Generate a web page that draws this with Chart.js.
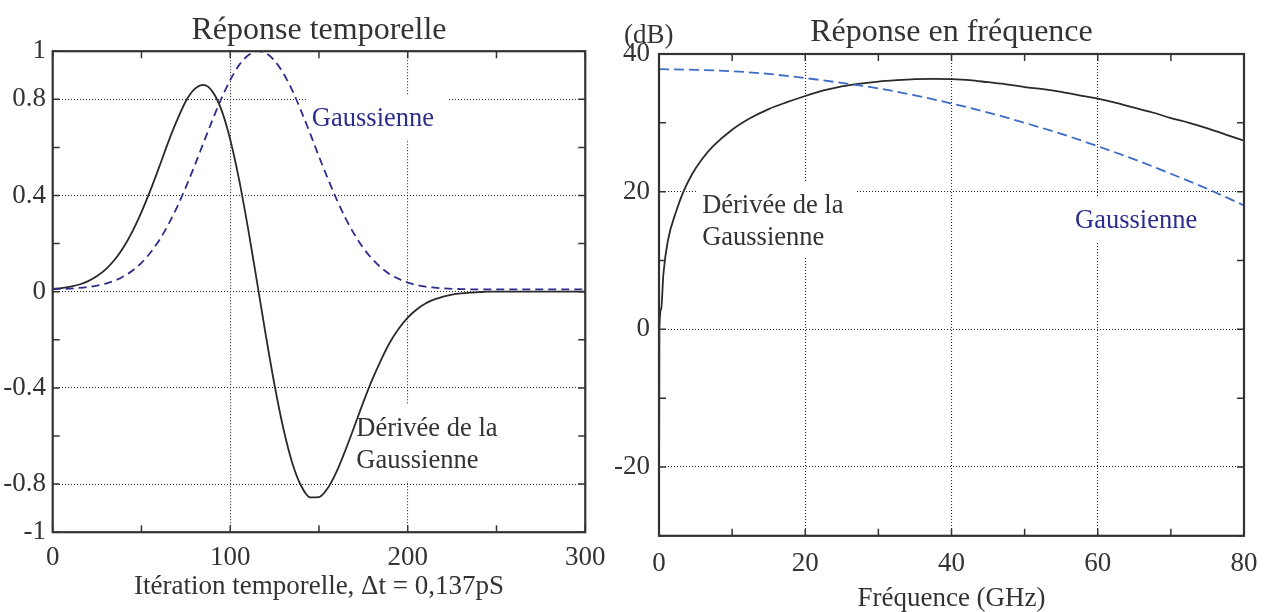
<!DOCTYPE html>
<html lang="fr">
<head>
<meta charset="utf-8">
<script src="https://cdn.jsdelivr.net/npm/chart.js@4.4.1/dist/chart.umd.min.js"></script>
<style>
  html, body { margin: 0; padding: 0; background: #fff; }
  #wrap { position: relative; width: 1269px; height: 612px; overflow: hidden; }
  .pane { position: absolute; top: 0; height: 612px; }
  #left { left: 0; width: 615px; }
  #right { left: 615px; width: 654px; }
</style>
</head>
<body>
<div id="wrap">
  <div class="pane" id="left"><canvas id="timeChart" width="615" height="612"></canvas></div>
  <div class="pane" id="right"><canvas id="freqChart" width="654" height="612"></canvas></div>
</div>
<script>
// ---- réponse temporelle ----
const iterations = [0, 5, 10, 15, 20, 25, 30, 35, 40, 45, 50, 55, 60, 65, 70, 75, 80, 85, 90, 95,
  100, 105, 110, 115, 120, 125, 130, 135, 140, 145, 150, 155, 160, 165, 170, 175, 180, 185, 190, 195,
  200, 205, 210, 215, 220, 225, 230, 235, 240, 245, 250, 255, 260, 265, 270, 275, 280, 285, 290, 295, 300];
const gaussTime = [0.011, 0.012, 0.013, 0.016, 0.020, 0.025, 0.034, 0.046, 0.064, 0.088, 0.120, 0.162, 0.214, 0.277, 0.351, 0.435, 0.525, 0.620, 0.714, 0.803,
  0.880, 0.942, 0.982, 1.000, 0.992, 0.960, 0.907, 0.836, 0.751, 0.658, 0.562, 0.470, 0.383, 0.305, 0.238, 0.181, 0.136, 0.100, 0.072, 0.053,
  0.038, 0.028, 0.021, 0.017, 0.014, 0.012, 0.011, 0.010, 0.010, 0.010, 0.010, 0.010, 0.010, 0.010, 0.010, 0.010, 0.010, 0.010, 0.010, 0.010, 0.010];
const derivTime = [0.012, 0.015, 0.021, 0.030, 0.044, 0.065, 0.094, 0.134, 0.186, 0.252, 0.331, 0.421, 0.519, 0.620, 0.712, 0.792, 0.843, 0.860, 0.832, 0.757,
  0.633, 0.466, 0.265, 0.045, -0.179, -0.389, -0.571, -0.713, -0.808, -0.855, -0.854, -0.816, -0.747, -0.657, -0.559, -0.459, -0.366, -0.283, -0.210, -0.153,
  -0.108, -0.074, -0.049, -0.032, -0.020, -0.012, -0.007, -0.004, -0.002, 0, 0, 0, 0, 0, 0, 0, 0, 0, 0, 0, 0];

const iterTicks = [0, 50, 100, 150, 200, 250, 300];
const iterLabels = [0, 100, 200, 300];
const iterGrid = [100, 200];
const ampTicks = [-1, -0.8, -0.6, -0.4, -0.2, 0, 0.2, 0.4, 0.6, 0.8, 1];
const ampLabels = [-1, -0.8, -0.4, 0, 0.4, 0.8, 1];
const ampGrid = [-0.8, -0.4, 0, 0.4, 0.8];

// ---- réponse en fréquence ----
const gaussFreqGHz = [0, 5, 10, 15, 20, 25, 30, 35, 40, 45, 50, 55, 60, 65, 70, 75, 80];
const gaussFreqDb = [37.8, 37.7, 37.5, 37.1, 36.5, 35.8, 35.0, 34.0, 32.8, 31.5, 30.0, 28.4, 26.6, 24.7, 22.6, 20.4, 18.0];
const derivFreqGHz = [0, 0.05, 0.3, 0.6, 1.2, 2.4, 3.3, 4.5, 5.8, 7.4, 10, 12.5, 15, 17.5, 20, 22.5, 25, 27.5, 30, 32.5,
  35, 37.5, 40, 42.5, 45, 47.5, 50, 52.5, 55, 57.5, 60, 62.5, 65, 67.5, 70, 72.5, 75, 77.5, 80];
const derivFreqDb = [-30, 0, 3, 8, 12.8, 17.3, 19.9, 22.5, 24.6, 26.6, 29.0, 30.7, 32.0, 33.0, 33.9, 34.7, 35.3, 35.7, 36.0, 36.2,
  36.35, 36.4, 36.35, 36.2, 35.9, 35.6, 35.2, 34.9, 34.5, 34.0, 33.5, 32.9, 32.2, 31.5, 30.7, 30.0, 29.2, 28.3, 27.4];

const freqTicks = [0, 10, 20, 30, 40, 50, 60, 70, 80];
const freqLabels = [0, 20, 40, 60, 80];
const freqGrid = [20, 40, 60];
const dbTicks = [-30, -20, -10, 0, 10, 20, 30, 40];
const dbLabels = [-20, 0, 20, 40];
const dbGrid = [-20, 0, 20];

const SERIF = "'Liberation Serif', 'Times New Roman', serif";
const INK = '#333';
const NAVY = '#2c2e8c';
const tickFont = { family: SERIF, size: 27, lineHeight: 1.2 };
const noteFont = "26.5px " + SERIF;

const pairs = (xs, ys) => xs.map((x, i) => ({ x, y: ys[i] }));

// boîte façon Matlab : cadre, petites graduations intérieures, textes sur fond blanc
const matlabBox = {
  id: 'matlabBox',
  beforeDatasetsDraw(chart, args, opts) {
    const { ctx } = chart;
    const xs = chart.scales.x, ys = chart.scales.y;
    (opts.notes || []).forEach(n => {
      ctx.save();
      ctx.font = noteFont;
      const px = xs.getPixelForValue(n.x), py = ys.getPixelForValue(n.y);
      const w = Math.max(...n.lines.map(l => ctx.measureText(l).width));
      const last = py + (n.lines.length - 1) * 32;
      ctx.fillStyle = '#fff';
      ctx.fillRect(px - 5, py - 31, w + 18, last + 13 - (py - 31));
      ctx.fillStyle = n.color;
      ctx.textBaseline = 'alphabetic';
      n.lines.forEach((l, i) => ctx.fillText(l, px, py + i * 32));
      ctx.restore();
    });
  },
  afterDatasetsDraw(chart, args, opts) {
    const { ctx, chartArea: a } = chart;
    const xs = chart.scales.x, ys = chart.scales.y;
    const L = 7;
    ctx.save();
    ctx.strokeStyle = INK;
    ctx.lineWidth = 1.5;
    ctx.beginPath();
    xs.ticks.forEach(t => {
      const p = xs.getPixelForValue(t.value);
      ctx.moveTo(p, a.bottom); ctx.lineTo(p, a.bottom - L);
      ctx.moveTo(p, a.top); ctx.lineTo(p, a.top + L);
    });
    ys.ticks.forEach(t => {
      const p = ys.getPixelForValue(t.value);
      ctx.moveTo(a.left, p); ctx.lineTo(a.left + L, p);
      ctx.moveTo(a.right, p); ctx.lineTo(a.right - L, p);
    });
    ctx.stroke();
    ctx.lineWidth = 2.2;
    ctx.strokeRect(a.left, a.top, a.right - a.left, a.bottom - a.top);
    if (opts.unit) {
      ctx.font = tickFont.size + 'px ' + SERIF;
      ctx.fillStyle = INK;
      ctx.fillText(opts.unit, a.left - 35, a.top - 11);
    }
    ctx.restore();
  }
};

function axis(min, max, ticks, labels, grid, extra) {
  return Object.assign({
    type: 'linear', min, max,
    afterBuildTicks: s => { s.ticks = ticks.map(v => ({ value: v })); },
    ticks: {
      autoSkip: false, maxRotation: 0, color: INK, font: tickFont,
      callback: v => labels.includes(v) ? String(v) : ''
    },
    grid: {
      drawTicks: false, lineWidth: 1.1,
      color: c => (c.tick && grid.includes(c.tick.value)) ? '#222' : 'rgba(0,0,0,0)'
    },
    border: { display: false, dash: [1, 2] }
  }, extra);
}

function titleOpts(text, top, bottom) {
  return {
    display: true, text, fullSize: false, color: INK,
    font: { family: SERIF, size: 32, weight: 'normal', lineHeight: 1.2 },
    padding: { top, bottom }
  };
}

new Chart(document.getElementById('timeChart'), {
  type: 'line',
  data: {
    datasets: [
      { label: 'Gaussienne', data: pairs(iterations, gaussTime), borderColor: NAVY, borderWidth: 1.8,
        borderDash: [8, 5], pointRadius: 0, cubicInterpolationMode: 'monotone', fill: false },
      { label: 'Dérivée de la Gaussienne', data: pairs(iterations, derivTime), borderColor: '#2a2a2a', borderWidth: 1.8,
        pointRadius: 0, cubicInterpolationMode: 'monotone', fill: false }
    ]
  },
  options: {
    responsive: false, animation: false, events: [],
    layout: { padding: { left: 0, right: 24, top: 0, bottom: 0 } },
    plugins: {
      legend: { display: false }, tooltip: { enabled: false },
      title: titleOpts('Réponse temporelle', 11, 1.8),
      matlabBox: {
        notes: [
          { lines: ['Gaussienne'], x: 146, y: 0.689, color: NAVY },
          { lines: ['Dérivée de la', 'Gaussienne'], x: 171, y: -0.6, color: INK }
        ]
      }
    },
    scales: {
      x: axis(0, 300, iterTicks, iterLabels, iterGrid, {
        afterFit: s => { s.height = 79.8; },
        title: { display: true, text: 'Itération temporelle, Δt = 0,137pS', color: INK, font: tickFont, padding: { top: 0, bottom: 9 } }
      }),
      y: axis(-1, 1, ampTicks, ampLabels, ampGrid, {
        afterFit: s => { s.width = 52.7; }
      })
    }
  },
  plugins: [matlabBox]
});
Chart.getChart('timeChart').options.scales.x.ticks.padding = 9.5;
Chart.getChart('timeChart').options.scales.y.ticks.padding = 6.7;
Chart.getChart('timeChart').update();

new Chart(document.getElementById('freqChart'), {
  type: 'line',
  data: {
    datasets: [
      { label: 'Gaussienne', data: pairs(gaussFreqGHz, gaussFreqDb), borderColor: '#3b6cc6', borderWidth: 1.8,
        borderDash: [10, 5], pointRadius: 0, cubicInterpolationMode: 'monotone', fill: false },
      { label: 'Dérivée de la Gaussienne', data: pairs(derivFreqGHz, derivFreqDb), borderColor: '#2a2a2a', borderWidth: 1.8,
        pointRadius: 0, cubicInterpolationMode: 'monotone', fill: false }
    ]
  },
  options: {
    responsive: false, animation: false, events: [],
    layout: { padding: { left: 0, right: 21, top: 0, bottom: 0 } },
    plugins: {
      legend: { display: false }, tooltip: { enabled: false },
      title: titleOpts('Réponse en fréquence', 13, 2.6),
      matlabBox: {
        unit: '(dB)',
        notes: [
          { lines: ['Dérivée de la', 'Gaussienne'], x: 5.9, y: 16.9, color: INK },
          { lines: ['Gaussienne'], x: 56.9, y: 14.7, color: NAVY }
        ]
      }
    },
    scales: {
      x: axis(0, 80, freqTicks, freqLabels, freqGrid, {
        afterFit: s => { s.height = 76.2; },
        title: { display: true, text: 'Fréquence (GHz)', color: INK, font: { family: SERIF, size: 27, lineHeight: 1 }, padding: { top: 0, bottom: 0 } }
      }),
      y: axis(-30, 40, dbTicks, dbLabels, dbGrid, {
        afterFit: s => { s.width = 44; }
      })
    }
  },
  plugins: [matlabBox]
});
Chart.getChart('freqChart').options.scales.x.ticks.padding = 11.5;
Chart.getChart('freqChart').options.scales.y.ticks.padding = 9;
Chart.getChart('freqChart').update();
</script>
</body>
</html>
